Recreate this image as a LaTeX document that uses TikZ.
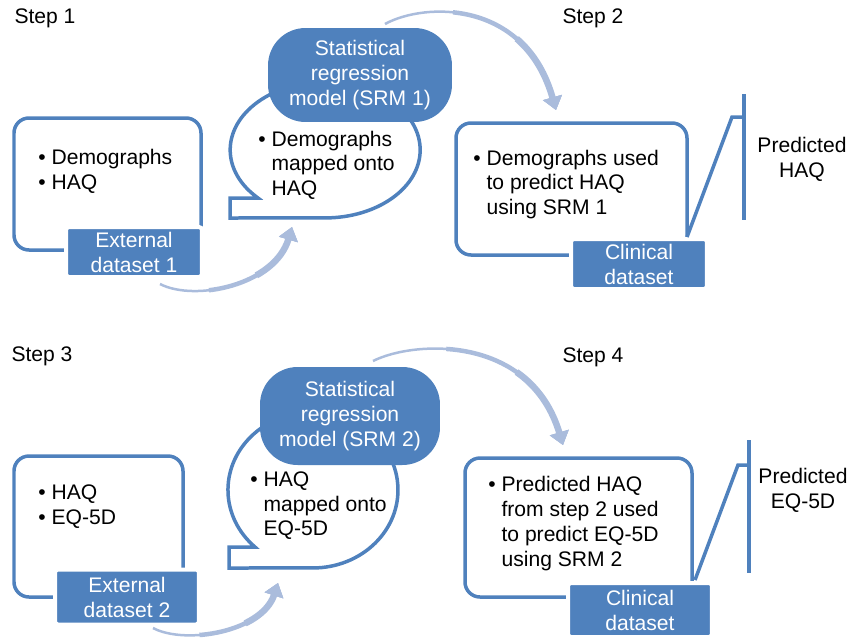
\documentclass[tikz,border=0pt]{standalone}
\usepackage{fontspec}
\setmainfont{Liberation Sans}
\usetikzlibrary{arrows.meta}
\definecolor{boxblue}{HTML}{4F81BD}
\definecolor{arrowblue}{HTML}{AABCDC}
\begin{document}
\begin{tikzpicture}[x=0.02cm,y=-0.02cm,
  every node/.style={font=\fontsize{12}{14.2}\selectfont},
  frame/.style={draw=boxblue,line width=0.07cm,rounded corners=0.3cm},
  bubble/.style={draw=boxblue,fill=white,line width=0.07cm},
  datalabel/.style={fill=boxblue,draw=white,line width=0.08cm,rounded corners=0.06cm,
    text=white,align=center,minimum width=2.72cm,minimum height=1cm,inner sep=0pt},
  srm/.style={fill=boxblue,text=white,align=center,minimum width=3.68cm,
    minimum height=1.88cm,rounded corners=0.75cm,inner sep=0pt},
  bullets/.style={anchor=west,inner sep=0pt},
  tip/.style={-{Triangle[width=0.38cm,length=0.26cm]}},
  flow/.style={draw=arrowblue,line width=0.05cm,tip,
    postaction={draw=arrowblue,line width=0.09cm,tip,dash pattern=on 0cm off #1 on 20cm},
    postaction={draw=arrowblue,line width=0.13cm,tip,dash pattern=on 0cm off 2*#1 on 20cm}},
  bracket/.style={draw=boxblue,line width=0.07cm}]
\useasboundingbox (0,0) rectangle (849,640);
% step labels
\node (step1) at (45,18) {Step 1};
\node (step2) at (593,18) {Step 2};
\node (step3) at (42,356) {Step 3};
\node (step4) at (593,357) {Step 4};
% step 1
\draw [frame] (14,118) rectangle (201,250);
\node [bullets] (listA) at (38,172) {\begin{tabular}{@{}l@{\ }l@{}}\textbullet & Demographs\\ \textbullet & HAQ\end{tabular}};
\node [datalabel] (extA) at (134,252) {External\\dataset 1};
\draw [bubble] (258,198) arc[start angle=135,end angle=450,x radius=95,y radius=68] -- (230,218) -- (230,198) -- cycle;
\node [bullets] (mapA) at (258,166) {\begin{tabular}{@{}l@{\ }l@{}}\textbullet & Demographs\\ & mapped onto\\ & HAQ\end{tabular}};
\coordinate (a1s) at (160,284);
\coordinate (a1e) at (292,227);
\draw [flow=1cm] (a1s) .. controls (195,302) and (275,285) .. (a1e);
\coordinate (a2s) at (385,24);
\coordinate (a2e) at (556,110);
\draw [flow=1.4cm] (a2s) .. controls (425,2) and (525,0) .. (a2e);
\node [srm] (srmA) at (360,75) {Statistical\\regression\\model (SRM 1)};
% step 2
\draw [frame] (456,123) rectangle (687,255);
\node [bullets] (useA) at (473,185) {\begin{tabular}{@{}l@{\ }l@{}}\textbullet & Demographs used\\ & to predict HAQ\\ & using SRM 1\end{tabular}};
\node [datalabel] (clinA) at (639,264) {Clinical\\dataset};
\coordinate (brA1) at (744,94);
\coordinate (brA2) at (744,220);
\coordinate (brA3) at (732,117);
\coordinate (brA4) at (687,237);
\draw [bracket] (brA1) -- (brA2);
\draw [bracket] (brA4) -- (brA3) -- (744,117);
\node [align=center] (predA) at (802,159) {Predicted\\HAQ};
% step 3
\draw [frame] (14,456) rectangle (183,597);
\node [bullets] (listB) at (38,507) {\begin{tabular}{@{}l@{\ }l@{}}\textbullet & HAQ\\ \textbullet & EQ-5D\end{tabular}};
\node [datalabel,minimum width=2.88cm,minimum height=1.1cm] (extB) at (127,597) {External\\dataset 2};
\draw [bubble] (255,547) arc[start angle=133,end angle=450,x radius=85,y radius=78] -- (229,568) -- (229,547) -- cycle;
\node [bullets] (mapB) at (250,506) {\begin{tabular}{@{}l@{\ }l@{}}\textbullet & HAQ\\ & mapped onto\\ & EQ-5D\end{tabular}};
\coordinate (a3s) at (153,628);
\coordinate (a3e) at (278,583);
\draw [flow=0.95cm] (a3s) .. controls (185,645) and (262,632) .. (a3e);
\coordinate (a4s) at (373,361);
\coordinate (a4e) at (563,445);
\draw [flow=1.5cm] (a4s) .. controls (415,340) and (530,335) .. (a4e);
\node [srm,minimum width=3.6cm,minimum height=1.96cm] (srmB) at (350,416) {Statistical\\regression\\model (SRM 2)};
% step 4
\draw [frame] (465,458) rectangle (692,597);
\node [bullets] (useB) at (488,524) {\begin{tabular}{@{}l@{\ }l@{}}\textbullet & Predicted HAQ\\ & from step 2 used\\ & to predict EQ-5D\\ & using SRM 2\end{tabular}};
\node [datalabel,minimum width=2.88cm,minimum height=1.08cm] (clinB) at (640,610) {Clinical\\dataset};
\coordinate (brB1) at (749,440);
\coordinate (brB2) at (749,573);
\coordinate (brB3) at (738,465);
\coordinate (brB4) at (695,580);
\draw [bracket] (brB1) -- (brB2);
\draw [bracket] (brB4) -- (brB3) -- (749,465);
\node [align=center] (predB) at (803,490) {Predicted\\EQ-5D};
\end{tikzpicture}
\end{document}
